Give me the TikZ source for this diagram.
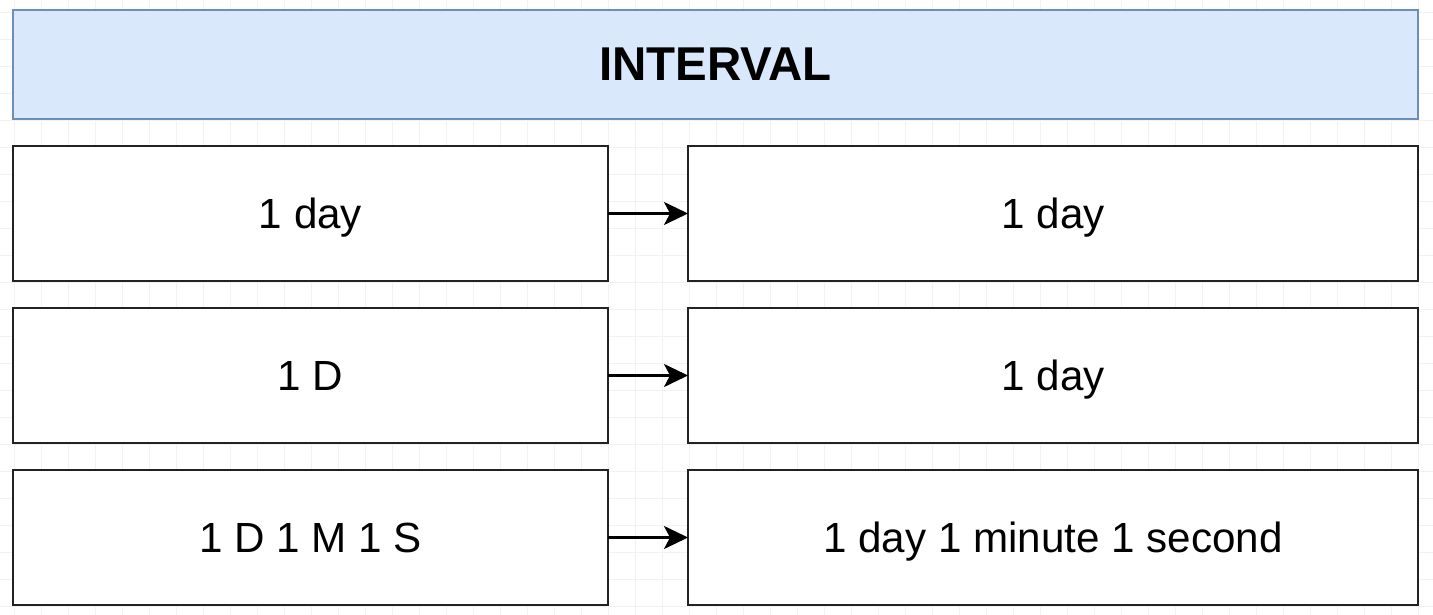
\documentclass[tikz,border=0pt]{standalone}
\usepackage{fontspec}
\setmainfont{Liberation Sans}
\usepackage{xcolor}
\usetikzlibrary{arrows.meta, positioning}

\definecolor{titlefill}{HTML}{DAE8FC}
\definecolor{titleline}{HTML}{6C8EBF}
\definecolor{boxline}{HTML}{222222}

\begin{document}
\begin{tikzpicture}[
    titlebox/.style={rectangle, draw=titleline, fill=titlefill, line width=1.3pt, outer sep=0pt, minimum width=28.1cm, minimum height=2.18cm, font=\fontsize{27}{32}\selectfont\bfseries},
    inbox/.style={rectangle, draw=boxline, fill=white, line width=1.4pt, outer sep=0pt, minimum width=11.9cm, minimum height=2.7cm, text height=17.6pt, text depth=0pt, font=\fontsize{24}{28}\selectfont},
    outbox/.style={inbox, minimum width=14.6cm},
    arrow/.style={line width=1.4pt, -{Stealth[length=0.48cm, width=0.46cm, inset=0.12cm]}},
    gridline/.style={gray!10, line width=0.5pt}]

    \useasboundingbox (0,0) rectangle (28.66,-12.3);

    % faint background grid
    \begin{scope}
        \clip (0,0) rectangle (28.66,-12.3);
        \draw [gridline, shift={(0.28,-0.24)}, step=0.54cm] (-0.54,-12.42) grid (28.62,0.54);
    \end{scope}

    \node [titlebox] (interval) at (14.31,-1.29) {INTERVAL};

    \node [inbox, below=0.54cm of interval.south west, anchor=north west] (inA) {1 day};
    \node [inbox, below=0.54cm of inA] (inB) {1 D};
    \node [inbox, below=0.54cm of inB] (inC) {1 D 1 M 1 S};

    \node [outbox, right=1.6cm of inA] (outA) {1 day};
    \node [outbox, right=1.6cm of inB] (outB) {1 day};
    \node [outbox, right=1.6cm of inC] (outC) {1 day 1 minute 1 second};

    \draw [arrow] (inA) -- (outA);
    \draw [arrow] (inB) -- (outB);
    \draw [arrow] (inC) -- (outC);
\end{tikzpicture}
\end{document}
